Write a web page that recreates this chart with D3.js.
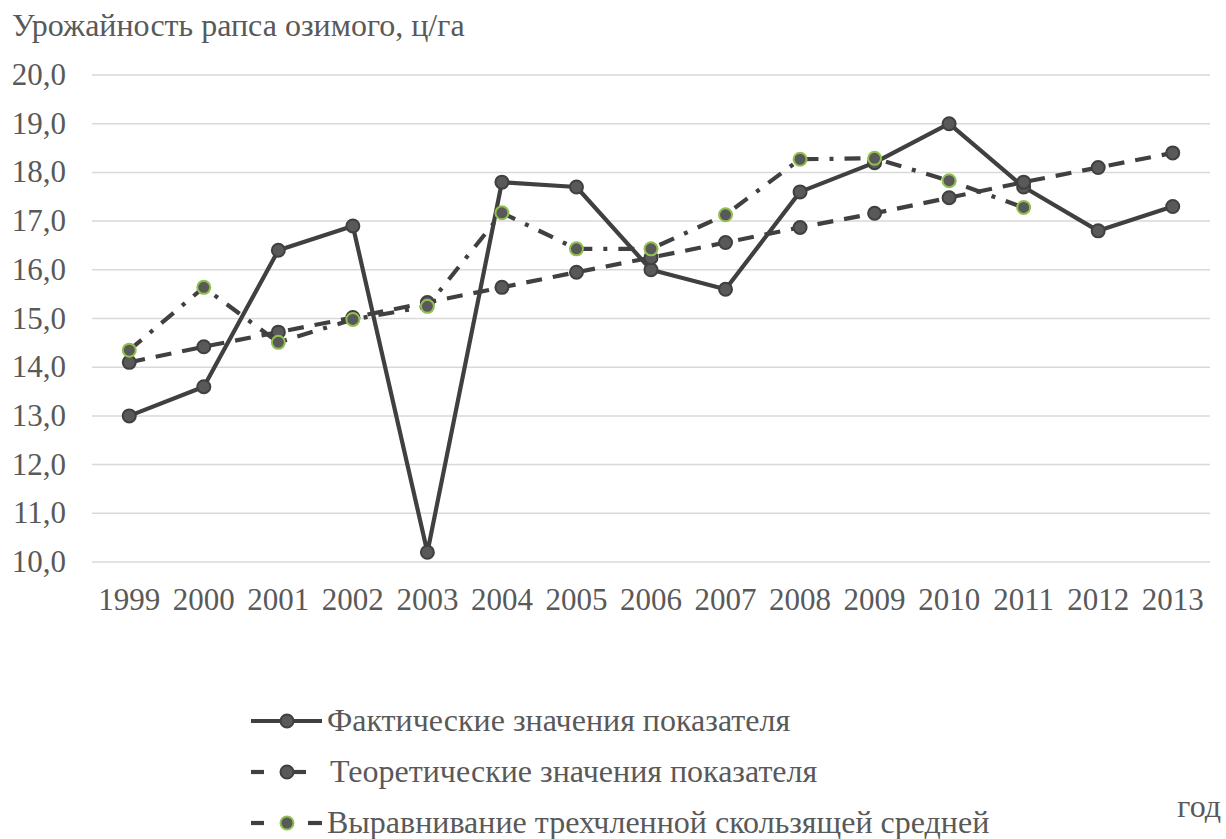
<!DOCTYPE html>
<html><head><meta charset="utf-8">
<script src="https://cdn.jsdelivr.net/npm/d3@7"></script>
<style>body{margin:0;background:#fff}svg{display:block}</style>
</head><body>
<svg id="c" width="1226" height="839"></svg>
<script>
const years = ["1999","2000","2001","2002","2003","2004","2005","2006","2007","2008","2009","2010","2011","2012","2013"];
const actual = [13.0,13.6,16.4,16.9,10.2,17.8,17.7,16.0,15.6,17.6,18.2,19.0,17.7,16.8,17.3];
const theoretical = [14.1,14.42,14.72,15.02,15.33,15.64,15.95,16.25,16.56,16.87,17.16,17.48,17.8,18.1,18.4];
const movingAvg = [14.35,15.64,14.51,14.98,15.25,17.17,16.43,16.43,17.13,18.27,18.29,17.83,17.28,null,null];
const yTicks = [10,11,12,13,14,15,16,17,18,19,20];
const seriesNames = ["Фактические значения показателя","Теоретические значения показателя","Выравнивание трехчленной скользящей средней"];
const title = "Урожайность рапса озимого, ц/га";
const xTitle = "год";

const FONT = "'Liberation Serif', Tinos, 'Noto Serif', 'DejaVu Serif', 'Times New Roman', serif";
const svg = d3.select("#c");
const x = d3.scalePoint().domain(years).range([92,1210]).padding(0.5);
const y = d3.scaleLinear().domain([10,20]).range([562,75]);
const fmt = v => d3.format(".1f")(v).replace(".", ",");
const txt = (sel, fs) => sel.attr("font-family", FONT).attr("fill", "#595959").attr("font-size", fs || 31);

svg.append("g").selectAll("line").data(yTicks).join("line")
  .attr("x1",92).attr("x2",1210).attr("y1",d=>y(d)).attr("y2",d=>y(d))
  .attr("stroke","#d9d9d9").attr("stroke-width",1.5);

svg.append("g").selectAll("text").data(yTicks).join("text")
  .attr("x",66).attr("y",d=>y(d)+10).attr("text-anchor","end")
  .call(txt).text(fmt);

svg.append("g").selectAll("text").data(years).join("text")
  .attr("x",d=>x(d)).attr("y",610).attr("text-anchor","middle")
  .call(txt).text(d=>d);

svg.append("text").attr("x",12).attr("y",36).call(txt, 32).text(title);
svg.append("text").attr("x",1221).attr("y",817).attr("text-anchor","end").call(txt, 32).text(xTitle);

const lineColor = "#404040";
const styles = [
  {data: actual, dash: null, markStroke: "#404040"},
  {data: theoretical, dash: "16,11", markStroke: "#404040"},
  {data: movingAvg, dash: "16,11,4,11", markStroke: "#92c050"}
];
const line = d3.line().defined(d=>d.v!=null).x(d=>x(d.k)).y(d=>y(d.v));
styles.forEach(s=>{
  const pts = years.map((k,i)=>({k, v:s.data[i]}));
  svg.append("path").datum(pts).attr("d",line).attr("fill","none")
    .attr("stroke",lineColor).attr("stroke-width",4.2)
    .attr("stroke-dasharray",s.dash).attr("stroke-linejoin","round");
  svg.append("g").selectAll("circle").data(pts.filter(d=>d.v!=null)).join("circle")
    .attr("cx",d=>x(d.k)).attr("cy",d=>y(d.v)).attr("r",6.5)
    .attr("fill","#595959").attr("stroke",s.markStroke).attr("stroke-width",2);
});

const lg = svg.append("g");
const rows = [721,772,823];
const segs = [[[251,322]], [[251,264],[287,306]], [[251,264],[308,322]]];
styles.forEach((s,i)=>{
  const cy = rows[i];
  segs[i].forEach(([a,b])=>{
    lg.append("line").attr("x1",a).attr("x2",b).attr("y1",cy).attr("y2",cy).attr("stroke",lineColor).attr("stroke-width",4.2);
  });
  lg.append("circle").attr("cx",287).attr("cy",cy).attr("r",6.5).attr("fill","#595959").attr("stroke",s.markStroke).attr("stroke-width",2);
  lg.append("text").attr("x",i===1?330:327).attr("y",cy+10).call(txt, 32).text(seriesNames[i]);
});
</script>
</body></html>
